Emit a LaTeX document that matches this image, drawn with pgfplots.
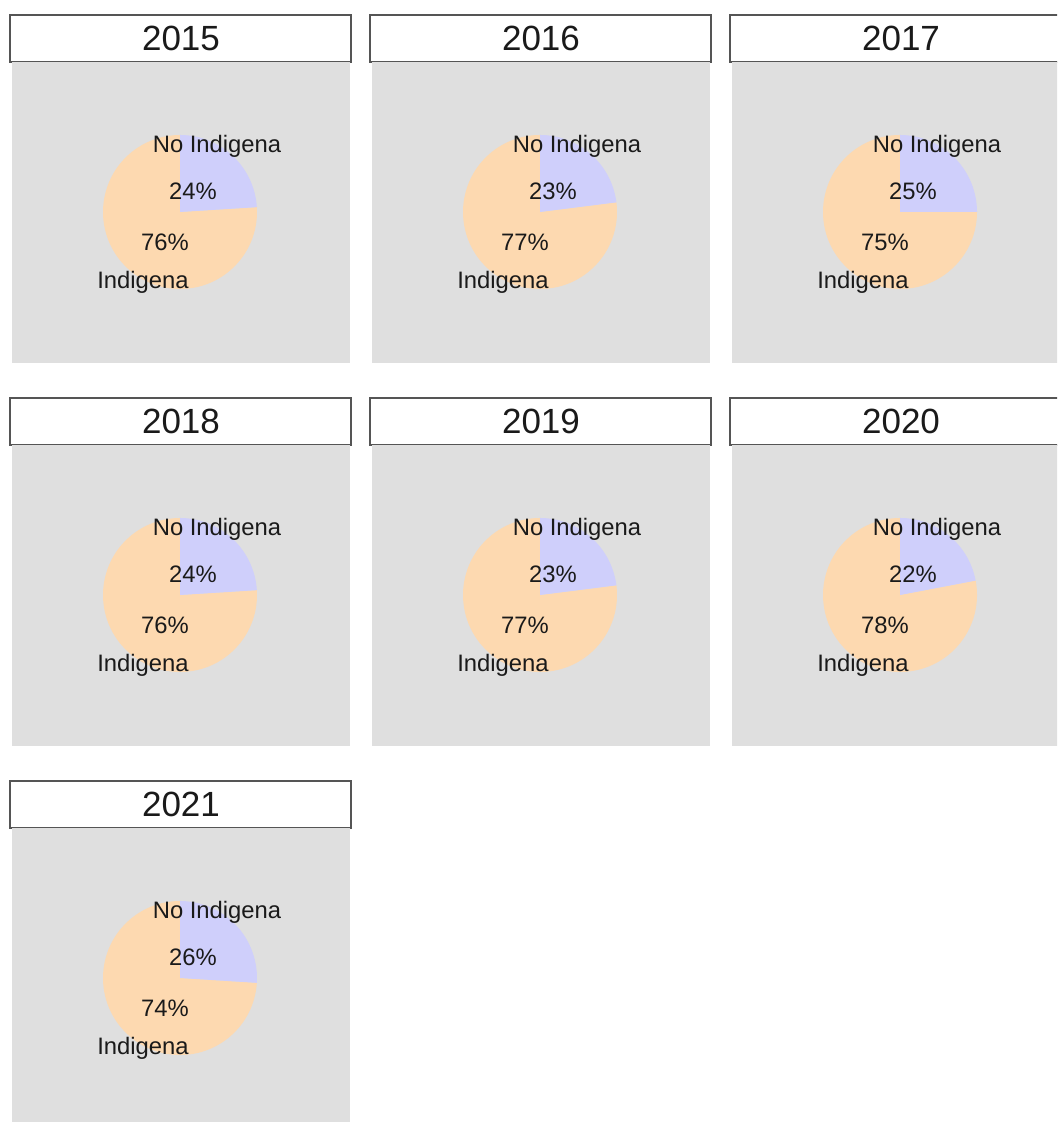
\documentclass[border=0pt]{standalone}
\usepackage{pgfplots}
\pgfplotsset{compat=1.18}
\usepackage{fontspec}
\setmainfont{Liberation Sans}
\definecolor{panelgray}{HTML}{DFDFDF}
\definecolor{pieblue}{HTML}{CFCFFB}
\definecolor{pieorange}{HTML}{FDD9B0}
\definecolor{stripborder}{HTML}{555555}
\definecolor{txt}{HTML}{1A1A1A}

% #1 column, #2 row, #3 year, #4 No Indigena (%), #5 Indigena (%)
\newcommand{\panel}[5]{%
  \pgfmathsetmacro\gx{12+360*#1}%
  \pgfmathsetmacro\gy{1122-(363+383*#2)}%
  \pgfmathsetmacro\sy{1122-(62+383*#2)}%
  \draw[stripborder, fill=white, line width=0.8pt] (\gx-2,\sy) rectangle (\gx+339,\sy+47);
  \node[txt, font=\fontsize{17.5}{20}\selectfont] at (\gx+169,\sy+23.5) {#3};
  \begin{axis}[
    at={(\gx,\gy)}, anchor=south west,
    scale only axis, width=169pt, height=150.5pt,
    xmin=0, xmax=338, ymin=0, ymax=301,
    axis lines=none, clip=false]
    \fill[panelgray] (rel axis cs:0,0) rectangle (rel axis cs:1,1);
    \fill[pieorange] (axis cs:168,151) -- ++({90-3.6*#4}:38.5pt)
      arc[start angle={90-3.6*#4}, end angle=-270, radius=38.5pt] -- cycle;
    \fill[pieblue] (axis cs:168,151) -- ++(90:38.5pt)
      arc[start angle=90, end angle={90-3.6*#4}, radius=38.5pt] -- cycle;
    \node[txt, font=\fontsize{11.9}{13}\selectfont] at (axis cs:205,217) {No Indigena};
    \node[txt, font=\fontsize{11.9}{13}\selectfont] at (axis cs:181,172) {#4\%};
    \node[txt, font=\fontsize{11.9}{13}\selectfont] at (axis cs:153,121) {#5\%};
    \node[txt, font=\fontsize{11.9}{13}\selectfont] at (axis cs:131,81) {Indigena};
  \end{axis}
}

\begin{document}
\begin{tikzpicture}[x=0.5pt, y=0.5pt]
\useasboundingbox (0,0) rectangle (1057,1122);
\clip (0,0) rectangle (1057,1122);
\panel{0}{0}{2015}{24}{76}
\panel{1}{0}{2016}{23}{77}
\panel{2}{0}{2017}{25}{75}
\panel{0}{1}{2018}{24}{76}
\panel{1}{1}{2019}{23}{77}
\panel{2}{1}{2020}{22}{78}
\panel{0}{2}{2021}{26}{74}
\end{tikzpicture}
\end{document}
